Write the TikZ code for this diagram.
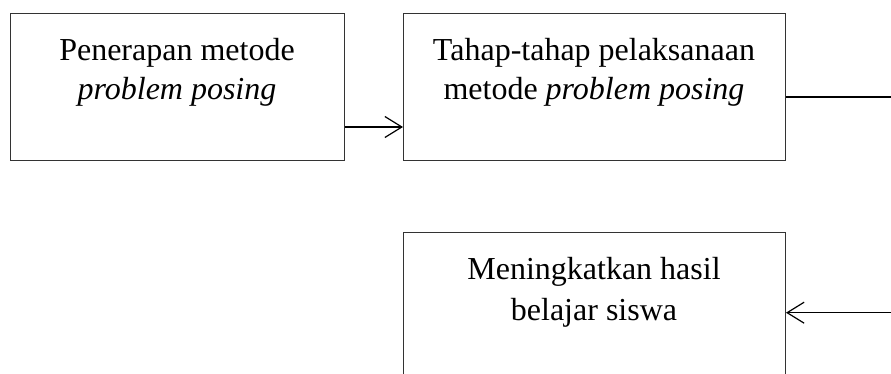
\documentclass[tikz,border=0pt]{standalone}
\usepackage{fontspec}
\setmainfont{Liberation Serif}
\usetikzlibrary{arrows.meta}
\begin{document}
\begin{tikzpicture}[x=1pt,y=-1pt,
  box/.style={draw=black!80, line width=1pt, rectangle, inner sep=0pt, anchor=north west},
  txt/.style={anchor=base, inner sep=0pt, font=\fontsize{32}{39}\selectfont},
  conn/.style={line width=1.2pt},
  arr/.style={conn, -{Straight Barb[length=17pt,width=21pt,line width=1.2pt]}}]
\useasboundingbox (0,0) rectangle (891,374);
\clip (0,0) rectangle (891,374);
\node[box, minimum width=334pt, minimum height=147.5pt] (b1) at (10,12.7) {};
\node[box, minimum width=382pt, minimum height=147.5pt] (b2) at (403,12.7) {};
\node[box, minimum width=382pt, minimum height=190pt] (b3) at (403,231.7) {};
\node[txt] (t1a) at (177,61) {Penerapan metode};
\node[txt] (t1b) at (177,100) {\itshape problem posing};
\node[txt] (t2a) at (594,61) {Tahap-tahap pelaksanaan};
\node[txt] (t2b) at (594,100) {metode \textit{problem posing}};
\node[txt] (t3a) at (594,279) {Meningkatkan hasil};
\node[txt] (t3b) at (594,320) {belajar siswa};
\coordinate (y1) at (0,127);
\coordinate (y2) at (891,97);
\coordinate (y3) at (891,312.7);
\draw[arr] (b1.east |- y1) -- (b2.west |- y1);
\draw[conn] (b2.east |- y2) -- (y2);
\draw[arr] (y3) -- (b3.east |- y3);
\end{tikzpicture}
\end{document}
